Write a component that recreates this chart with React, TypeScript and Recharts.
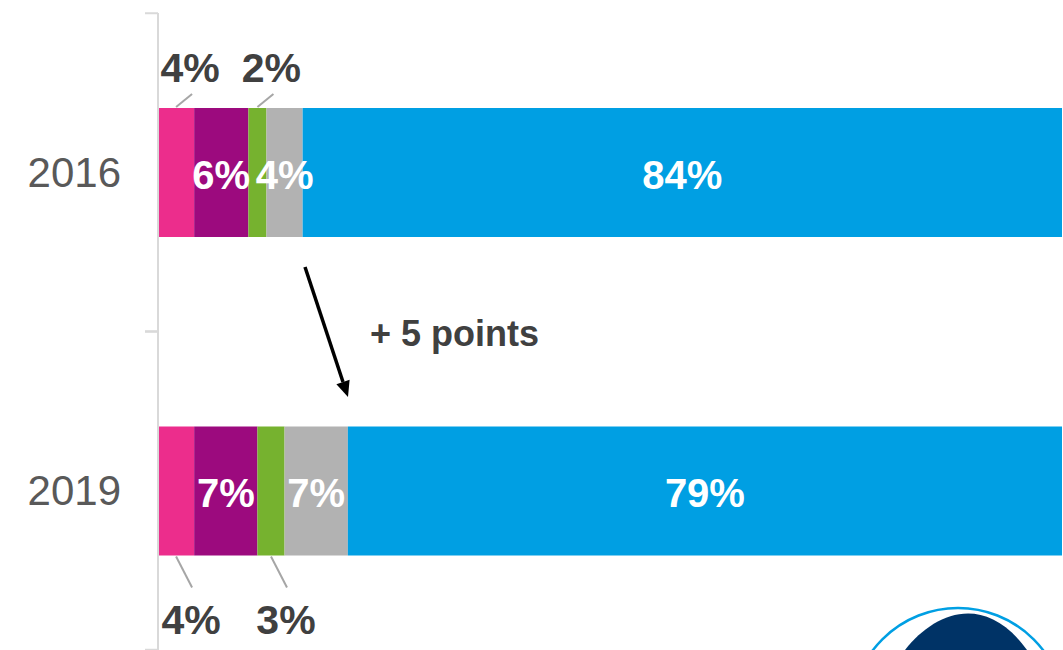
import { BarChart, Bar, XAxis, YAxis, LabelList } from "recharts";

const years = ["2016", "2019"];
const pinkShare = [4, 4];
const purpleShare = [6, 7];
const greenShare = [2, 3];
const greyShare = [4, 7];
const blueShare = [84, 79];

const PINK = "#EC2D8C";
const PURPLE = "#9C0A7E";
const GREEN = "#76B22F";
const GREY = "#B2B2B2";
const BLUE = "#009FE3";
const DARK = "#404040";
const FONT = "'Liberation Sans', Arial, sans-serif";

const data = years.map((year, i) => ({
  year,
  pink: pinkShare[i],
  purple: purpleShare[i],
  green: greenShare[i],
  grey: greyShare[i],
  blue: blueShare[i],
}));

const pct = (v: number) => `${v}%`;

// small segments get their label outside the bar, with a leader line
const OutsideLabel = (props: any) => {
  const { x, y, width, height, value, index } = props;
  const cx = x + width / 2;
  if (index === 0) {
    return (
      <g>
        <line x1={cx} y1={y - 1} x2={cx + 16} y2={y - 14} stroke="#A6A6A6" strokeWidth={2} />
        <text x={cx + 14} y={y - 40} textAnchor="middle" dominantBaseline="central"
          fill={DARK} fontSize={41} fontWeight="bold" fontFamily={FONT}>
          {pct(value)}
        </text>
      </g>
    );
  }
  const bottom = y + height;
  return (
    <g>
      <line x1={cx} y1={bottom + 1} x2={cx + 16} y2={bottom + 32} stroke="#A6A6A6" strokeWidth={2} />
      <text x={cx + 15} y={bottom + 64} textAnchor="middle" dominantBaseline="central"
        fill={DARK} fontSize={41} fontWeight="bold" fontFamily={FONT}>
        {pct(value)}
      </text>
    </g>
  );
};

const InsideLabel = (props: any) => {
  const { x, y, width, height, value } = props;
  return (
    <text x={x + width / 2} y={y + height / 2 + 2} textAnchor="middle" dominantBaseline="central"
      fill="#FFFFFF" fontSize={40} fontWeight="bold" fontFamily={FONT}>
      {pct(value)}
    </text>
  );
};

const YearTick = (props: any) => {
  const { y, payload } = props;
  const half = 159;
  return (
    <g>
      <line x1={145} y1={y - half} x2={158} y2={y - half} stroke="#D9D9D9" strokeWidth={2} />
      <line x1={145} y1={y + half} x2={158} y2={y + half} stroke="#D9D9D9" strokeWidth={2} />
      <text x={121} y={y} textAnchor="end" dominantBaseline="central"
        fill="#595959" fontSize={42} fontFamily={FONT}>
        {payload.value}
      </text>
    </g>
  );
};

export default function App() {
  return (
    <div style={{ position: "absolute", left: 0, top: 0, width: 1063, height: 650, background: "#fff" }}>
      <BarChart
        width={1063}
        height={650}
        data={data}
        layout="vertical"
        margin={{ top: 13, right: 1, bottom: 0, left: 0 }}
        barSize={129}
      >
        <XAxis type="number" domain={[0, 100]} hide />
        <YAxis
          type="category"
          dataKey="year"
          width={158}
          axisLine={{ stroke: "#D9D9D9", strokeWidth: 2 }}
          tickLine={false}
          tick={<YearTick />}
        />
        <Bar dataKey="pink" stackId="a" fill={PINK} isAnimationActive={false}>
          <LabelList dataKey="pink" content={<OutsideLabel />} />
        </Bar>
        <Bar dataKey="purple" stackId="a" fill={PURPLE} isAnimationActive={false}>
          <LabelList dataKey="purple" content={<InsideLabel />} />
        </Bar>
        <Bar dataKey="green" stackId="a" fill={GREEN} isAnimationActive={false}>
          <LabelList dataKey="green" content={<OutsideLabel />} />
        </Bar>
        <Bar dataKey="grey" stackId="a" fill={GREY} isAnimationActive={false}>
          <LabelList dataKey="grey" content={<InsideLabel />} />
        </Bar>
        <Bar dataKey="blue" stackId="a" fill={BLUE} isAnimationActive={false}>
          <LabelList dataKey="blue" content={<InsideLabel />} />
        </Bar>
      </BarChart>
      <svg width={1063} height={650} style={{ position: "absolute", left: 0, top: 0, pointerEvents: "none" }}>
        <line x1={305} y1={267} x2={343} y2={382} stroke="#000" strokeWidth={3.5} />
        <polygon points="348,397 336.4,384.2 349.6,379.8" fill="#000" />
        <text x={370} y={333} dominantBaseline="central" fill={DARK} fontSize={36}
          fontWeight="bold" fontFamily={FONT}>
          + 5 points
        </text>
        <path d="M905,650 C935,612 985,592 1027,650 Z" fill="#003366" />
        <circle cx={958} cy={715} r={107} fill="none" stroke={BLUE} strokeWidth={2.5} />
      </svg>
    </div>
  );
}
